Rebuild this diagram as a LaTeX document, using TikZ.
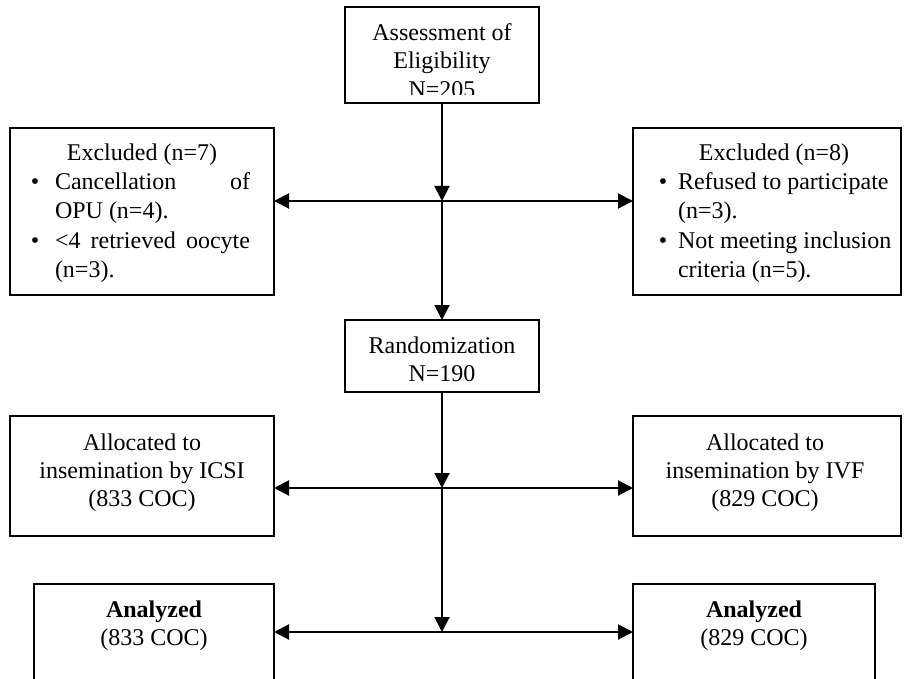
\documentclass[tikz,border=0pt]{standalone}
\usepackage{fontspec}
\setmainfont{Liberation Serif}
\usetikzlibrary{arrows.meta}
\begin{document}
\begin{tikzpicture}[x=1pt,y=-1pt,
  box/.style={draw, line width=2.2pt, inner sep=0pt, outer sep=0pt},
  txt/.style={anchor=base, inner sep=0pt, outer sep=0pt, font=\fontsize{24}{27.5}\selectfont},
  txtl/.style={txt, anchor=base west},
  conn/.style={line width=2pt, -{Triangle[length=15pt,width=15pt]}}]
\useasboundingbox (0,0) rectangle (912,679);
\clip (0,0) rectangle (912,679);
% boxes
\node[box, minimum width=194pt, minimum height=96pt] (elig) at (442,55) {};
\node[box, minimum width=194pt, minimum height=72pt] (rand) at (442,356) {};
\node[box, minimum width=264pt, minimum height=167pt] (exL) at (142,211.5) {};
\node[box, minimum width=268pt, minimum height=167pt] (exR) at (767,211.5) {};
\node[box, minimum width=264pt, minimum height=120pt] (icsi) at (142,476) {};
\node[box, minimum width=268pt, minimum height=120pt] (ivf) at (767,476) {};
\node[box, minimum width=240pt, minimum height=116pt] (anL) at (154,642) {};
\node[box, minimum width=242pt, minimum height=116pt] (anR) at (754,642) {};
% top box text (last line clipped by box)
\begin{scope}
\clip (346,8) rectangle (538,95);
\node[txt] (e1) at (442,41) {Assessment of};
\node[txt] (e2) at (442,68.5) {Eligibility};
\node[txt] (e3) at (442,97.5) {N=205};
\end{scope}
% randomization
\node[txt] (r1) at (442,353) {Randomization};
\node[txt] (r2) at (442,381) {N=190};
% excluded left
\node[txt] (l0) at (142,161) {Excluded (n=7)};
\node[txt] (lb1) at (35,189.5) {\textbullet};
\node[txtl] (l1) at (55,189.5) {\hbox to 195pt{Cancellation\hfill of}};
\node[txtl] (l2) at (55,218) {OPU (n=4).};
\node[txt] (lb2) at (35,248.5) {\textbullet};
\node[txtl] (l3) at (55,248.5) {\hbox to 195pt{<4\hfill retrieved\hfill oocyte}};
\node[txtl] (l4) at (55,277) {(n=3).};
% excluded right
\node[txt] (x0) at (774,161) {Excluded (n=8)};
\node[txt] (xb1) at (663,189.5) {\textbullet};
\node[txtl] (x1) at (678,189.5) {Refused to participate};
\node[txtl] (x2) at (678,218) {(n=3).};
\node[txt] (xb2) at (663,248.5) {\textbullet};
\node[txtl] (x3) at (678,248.5) {Not meeting inclusion};
\node[txtl] (x4) at (678,277) {criteria (n=5).};
% allocation
\node[txt] (a1) at (142,450) {Allocated to};
\node[txt] (a2) at (142,478) {insemination by ICSI};
\node[txt] (a3) at (142,506) {(833 COC)};
\node[txt] (b1) at (765,450) {Allocated to};
\node[txt] (b2) at (765,478) {insemination by IVF};
\node[txt] (b3) at (765,506) {(829 COC)};
% analyzed
\node[txt] (c1) at (154,617) {\textbf{Analyzed}};
\node[txt] (c2) at (154,645) {(833 COC)};
\node[txt] (d1) at (754,617) {\textbf{Analyzed}};
\node[txt] (d2) at (754,645) {(829 COC)};
% junctions
\coordinate (j1) at (442,201);
\coordinate (j2) at (442,488);
\coordinate (j3) at (442,632);
% connectors
\draw[conn] (elig.south) -- (j1);
\draw[conn] (j1) -- (rand.north);
\draw[conn] (j1) -- (exL.east |- j1);
\draw[conn] (j1) -- (exR.west |- j1);
\draw[conn] (rand.south) -- (j2);
\draw[conn] (j2) -- (icsi.east |- j2);
\draw[conn] (j2) -- (ivf.west |- j2);
\draw[conn] (j2) -- (j3);
\draw[conn] (j3) -- (anL.east |- j3);
\draw[conn] (j3) -- (anR.west |- j3);
\end{tikzpicture}
\end{document}
